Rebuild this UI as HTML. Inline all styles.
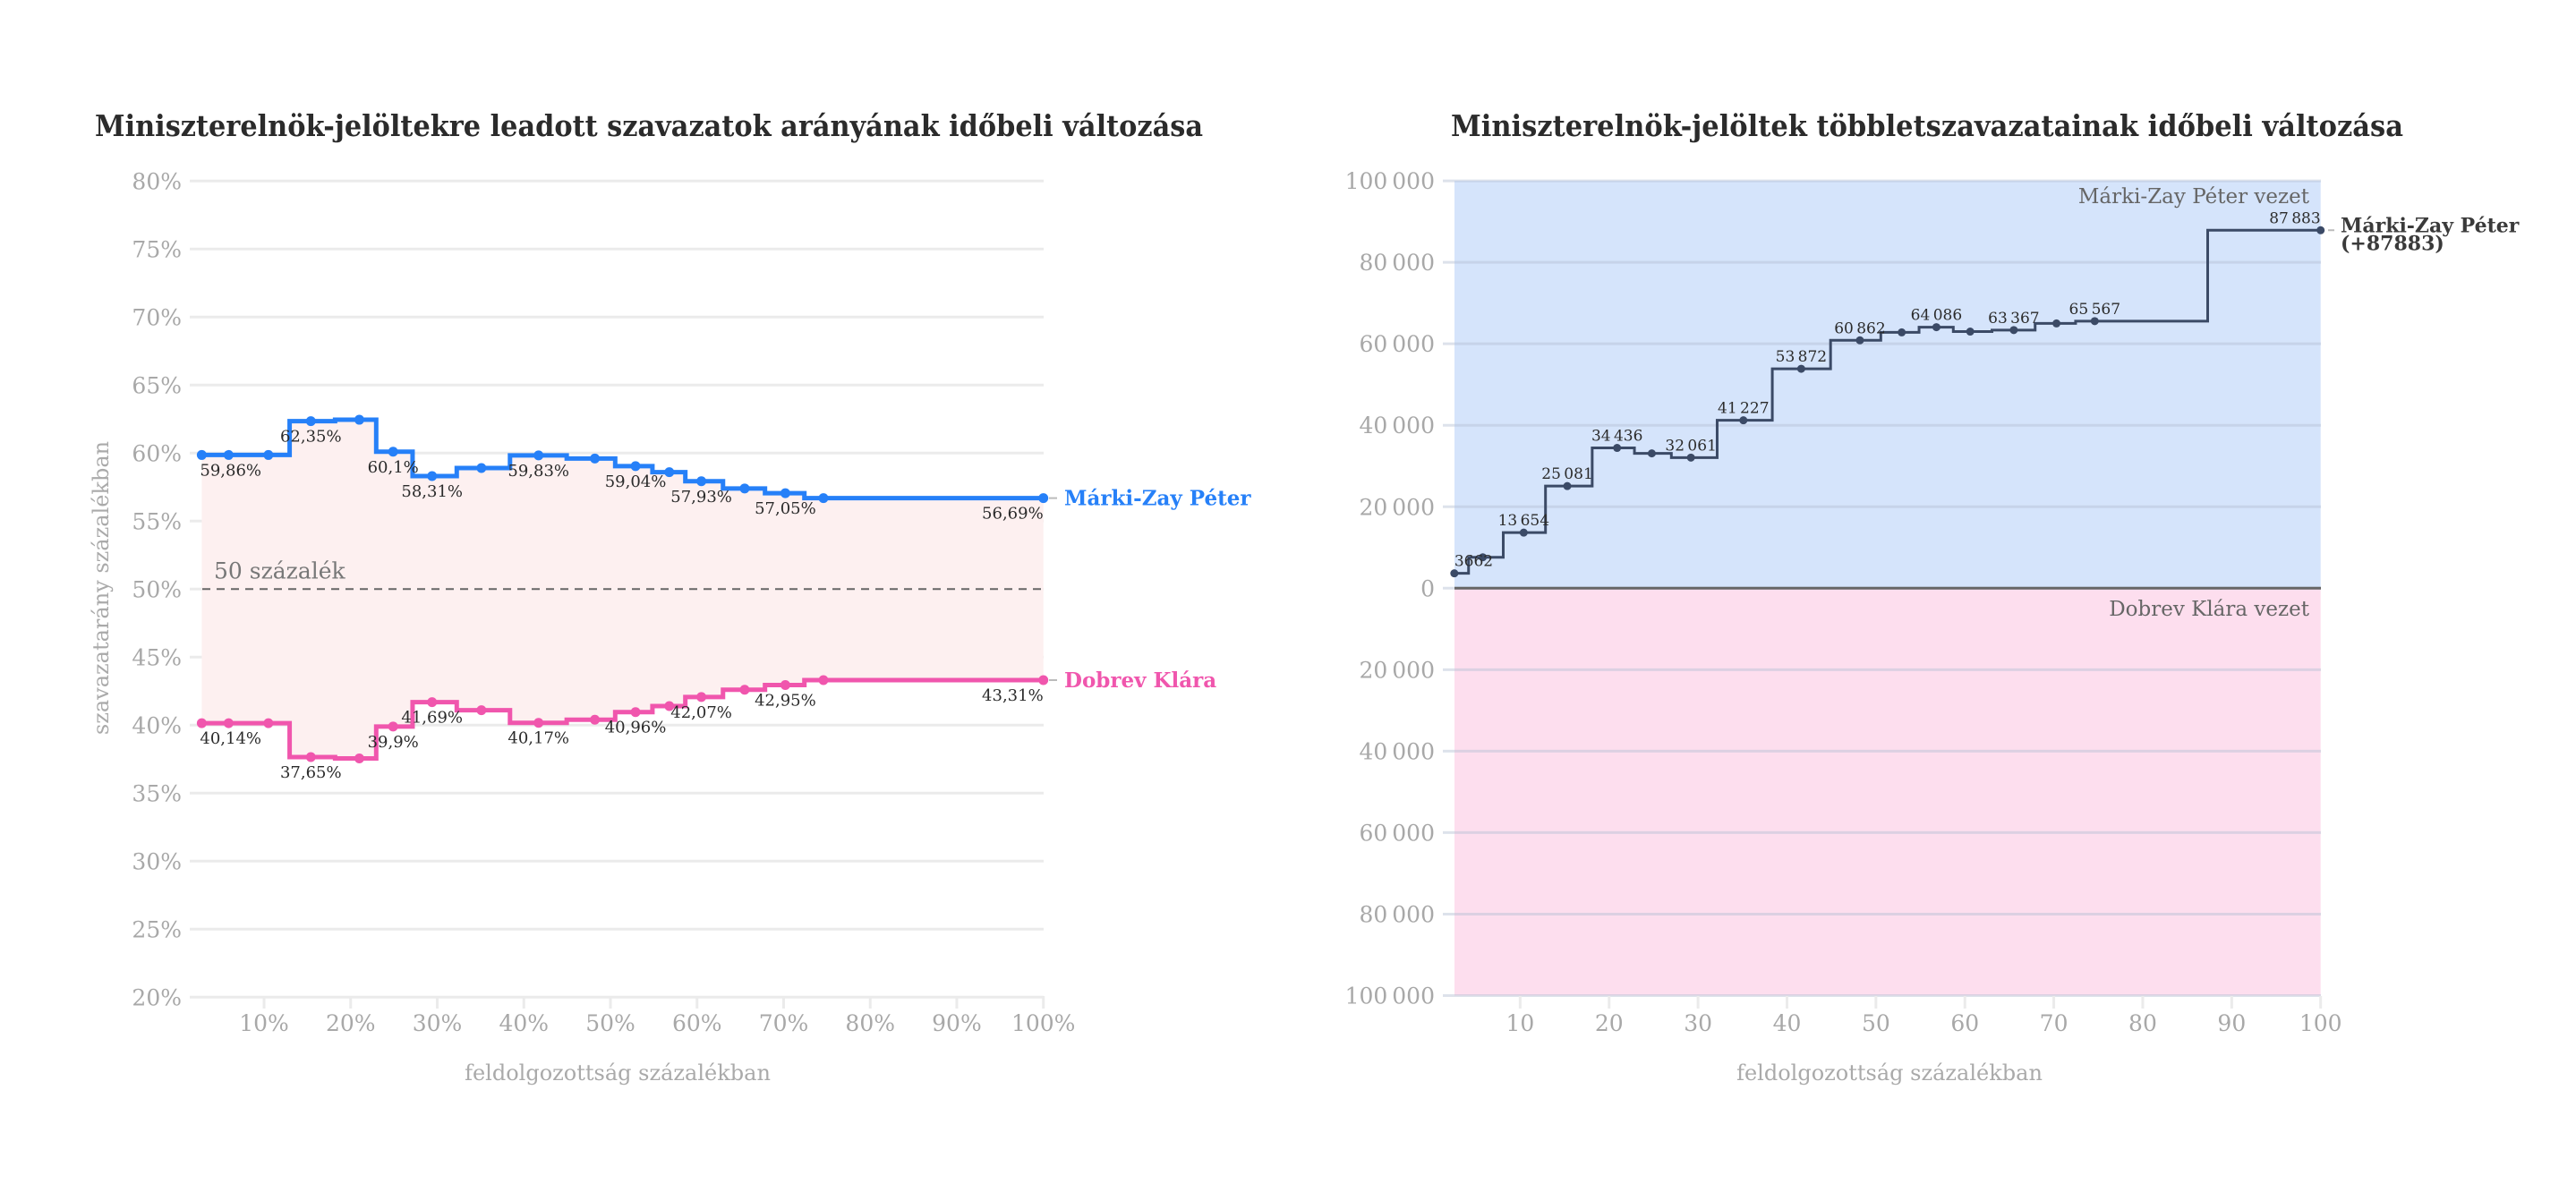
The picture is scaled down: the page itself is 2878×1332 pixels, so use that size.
<!DOCTYPE html>
<html><head><meta charset="utf-8">
<style>
html,body{margin:0;padding:0;background:#fff;}
svg{display:block;}
text{font-family:"DejaVu Serif","Liberation Serif",serif;}
</style></head>
<body>
<svg id="c" width="2878" height="1332" viewBox="0 0 2878 1332" xmlns="http://www.w3.org/2000/svg"></svg>
<script>
const progress = [2.8,5.9,10.5,15.4,21,24.9,29.4,35.1,41.7,48.2,52.9,56.8,60.5,65.5,70.2,74.6,100];
const mzpShare = [59.86,59.86,59.86,62.35,62.45,60.1,58.31,58.9,59.83,59.6,59.04,58.6,57.93,57.4,57.05,56.69,56.69];
const dobShare = [40.14,40.14,40.14,37.65,37.55,39.9,41.69,41.1,40.17,40.4,40.96,41.4,42.07,42.6,42.95,43.31,43.31];
const shareLabelIdx = [0,3,5,6,8,10,12,14,16];
const leftYTicks = [20,25,30,35,40,45,50,55,60,65,70,75,80];
const xTicksPct = [10,20,30,40,50,60,70,80,90,100];
const progressR = [2.6,5.8,10.4,15.3,20.9,24.8,29.2,35.1,41.6,48.2,52.9,56.8,60.6,65.5,70.3,74.6,100];
const lead = [3662,7600,13654,25081,34436,33100,32061,41227,53872,60862,62800,64086,63000,63367,65000,65567,87883];
const leadLabelIdx = [0,2,3,4,6,7,8,9,11,13,15,16];
const rightYTicks = [-100000,-80000,-60000,-40000,-20000,0,20000,40000,60000,80000,100000];
const xTicksR = [10,20,30,40,50,60,70,80,90,100];

const NS="http://www.w3.org/2000/svg";
const svg=document.getElementById('c');
function mk(tag,attrs,parent){const e=document.createElementNS(NS,tag);for(const k in attrs)e.setAttribute(k,attrs[k]);(parent||svg).appendChild(e);return e;}
function fmtPct(v){return String(v).replace('.',',')+'%';}
function fmtNum(v){const s=String(Math.abs(v));if(s.length<=4)return s;return s.replace(/\B(?=(\d{3})+(?!\d))/g,'\u2009');}
function stepPath(xs,ys){let d='M'+xs[0]+','+ys[0];for(let i=1;i<xs.length;i++){const m=(xs[i-1]+xs[i])/2;d+=' H'+m+' V'+ys[i]+' H'+xs[i];}return d;}

// ---------- LEFT CHART ----------
const lx=v=>198.3+v*9.674;
const ly=v=>202.3+(80-v)*15.2;
let t=mk('text',{x:106,y:152,'font-size':33,'font-weight':'bold',fill:'#2b2b2b',textLength:1238,lengthAdjust:'spacingAndGlyphs'});

t.textContent='Miniszterelnök-jelöltekre leadott szavazatok arányának időbeli változása';
leftYTicks.forEach(v=>{
  const g=mk('line',{x1:212,x2:1166,y1:ly(v),y2:ly(v),stroke:'#ebebeb','stroke-width':3});
  
  const l=mk('text',{x:203,y:ly(v)+9,'font-size':25,fill:'#a8a8a8','text-anchor':'end'});
  
  l.textContent=v+'%';
});
xTicksPct.forEach(v=>{
  const g=mk('line',{x1:lx(v),x2:lx(v),y1:1113,y2:1127,stroke:'#ebebeb','stroke-width':3});
  
  const l=mk('text',{x:lx(v),y:1152,'font-size':25,fill:'#a8a8a8','text-anchor':'middle'});
  
  l.textContent=v+'%';
});
// area
const lxs=progress.map(lx), myY=mzpShare.map(ly), dyY=dobShare.map(ly);
let area=stepPath(lxs,myY);
for(let i=lxs.length-1;i>=0;i--){ if(i===lxs.length-1){area+=' V'+dyY[i];} else {const m=(lxs[i]+lxs[i+1])/2; area+=' H'+m+' V'+dyY[i];} }
area+=' H'+lxs[0]+' Z';
let a=mk('path',{d:area,fill:'#fdf0f0'});

let dl=mk('line',{x1:226,x2:1166,y1:ly(50),y2:ly(50),stroke:'#666','stroke-width':2,'stroke-dasharray':'9,7'});

t=mk('text',{x:239,y:ly(50)-12,'font-size':25,fill:'#777'});

t.textContent='50 százalék';
[[myY,mzpShare,'#2680f8','mzp'],[dyY,dobShare,'#f056ad','dobrev']].forEach(([ys,vals,col,nm])=>{
  const p=mk('path',{d:stepPath(lxs,ys),fill:'none',stroke:col,'stroke-width':5});
  
  lxs.forEach((x,i)=>{
    const c=mk('circle',{cx:x,cy:ys[i],r:5.5,fill:col});
    
  });
  shareLabelIdx.forEach(i=>{
    const anchor=i===0?'start':(i===lxs.length-1?'end':'middle');
    const l=mk('text',{x:i===0?lxs[i]-2:lxs[i],y:ys[i]+23,'font-size':18,fill:'#2b2b2b','text-anchor':anchor});
    
    l.textContent=fmtPct(vals[i]);
  });
});
[[mzpShare,'#2680f8','Márki-Zay Péter','mzp-series-label'],[dobShare,'#f056ad','Dobrev Klára','dobrev-series-label']].forEach(([vals,col,txt,nm])=>{
  const y=ly(vals[vals.length-1]);
  const d=mk('line',{x1:1172,x2:1181,y1:y,y2:y,stroke:'#bbb','stroke-width':2});
  
  const l=mk('text',{x:1189,y:y+8,'font-size':23,'font-weight':'bold',fill:col});
  
  l.textContent=txt;
});
t=mk('text',{x:0,y:0,'font-size':24,fill:'#aaa','text-anchor':'middle',transform:'translate(121,657) rotate(-90)'});

t.textContent='szavazatarány százalékban';
t=mk('text',{x:690,y:1207,'font-size':24,fill:'#aaa','text-anchor':'middle'});

t.textContent='feldolgozottság százalékban';

// ---------- RIGHT CHART ----------
const rx=v=>1599+v*9.937;
const ry=v=>657.3-v*0.004552;
t=mk('text',{x:1621,y:152,'font-size':33,'font-weight':'bold',fill:'#2b2b2b',textLength:1064,lengthAdjust:'spacingAndGlyphs'});

t.textContent='Miniszterelnök-jelöltek többletszavazatainak időbeli változása';
let bg=mk('rect',{x:1625,y:ry(100000),width:2592.7-1625,height:ry(0)-ry(100000),fill:'#d5e4fb'});

bg=mk('rect',{x:1625,y:ry(0),width:2592.7-1625,height:ry(-100000)-ry(0),fill:'#fddeee'});

rightYTicks.forEach(v=>{
  const g=mk('line',{x1:1612,x2:2593,y1:ry(v),y2:ry(v),stroke:'rgba(180,190,210,0.45)','stroke-width':3});
  
  const l=mk('text',{x:1603,y:ry(v)+9,'font-size':25,fill:'#a8a8a8','text-anchor':'end'});
  
  l.textContent=fmtNum(v);
});
let zl=mk('line',{x1:1625,x2:2593,y1:ry(0),y2:ry(0),stroke:'#666','stroke-width':3});

xTicksR.forEach(v=>{
  const g=mk('line',{x1:rx(v),x2:rx(v),y1:1113,y2:1127,stroke:'#ebebeb','stroke-width':3});
  
  const l=mk('text',{x:rx(v),y:1152,'font-size':25,fill:'#a8a8a8','text-anchor':'middle'});
  
  l.textContent=v;
});
t=mk('text',{x:2580,y:227,'font-size':23,fill:'#666','text-anchor':'end'});

t.textContent='Márki-Zay Péter vezet';
t=mk('text',{x:2580,y:688,'font-size':23,fill:'#666','text-anchor':'end'});

t.textContent='Dobrev Klára vezet';
const rxs=progressR.map(rx), rys=lead.map(ry);
let rp=mk('path',{d:stepPath(rxs,rys),fill:'none',stroke:'#3b4a66','stroke-width':3});

rxs.forEach((x,i)=>{
  const c=mk('circle',{cx:x,cy:rys[i],r:4.5,fill:'#3b4a66'});
  
});
leadLabelIdx.forEach(i=>{
  const anchor=i===0?'start':(i===rxs.length-1?'end':'middle');
  const l=mk('text',{x:rxs[i],y:rys[i]-8,'font-size':17,fill:'#2b2b2b','text-anchor':anchor});
  
  l.textContent=fmtNum(lead[i]);
});
const ey=rys[rys.length-1];
let ed=mk('line',{x1:2601,x2:2608,y1:ey,y2:ey,stroke:'#bbb','stroke-width':2});

t=mk('text',{x:2615,y:ey+2,'font-size':22,'font-weight':'bold',fill:'#3a3a3a'});

t.textContent='Márki-Zay Péter';
t=mk('text',{x:2615,y:ey+22,'font-size':22,'font-weight':'bold',fill:'#3a3a3a'});

t.textContent='(+'+lead[lead.length-1]+')';
t=mk('text',{x:2111,y:1207,'font-size':24,fill:'#aaa','text-anchor':'middle'});

t.textContent='feldolgozottság százalékban';
</script>
</body></html>
